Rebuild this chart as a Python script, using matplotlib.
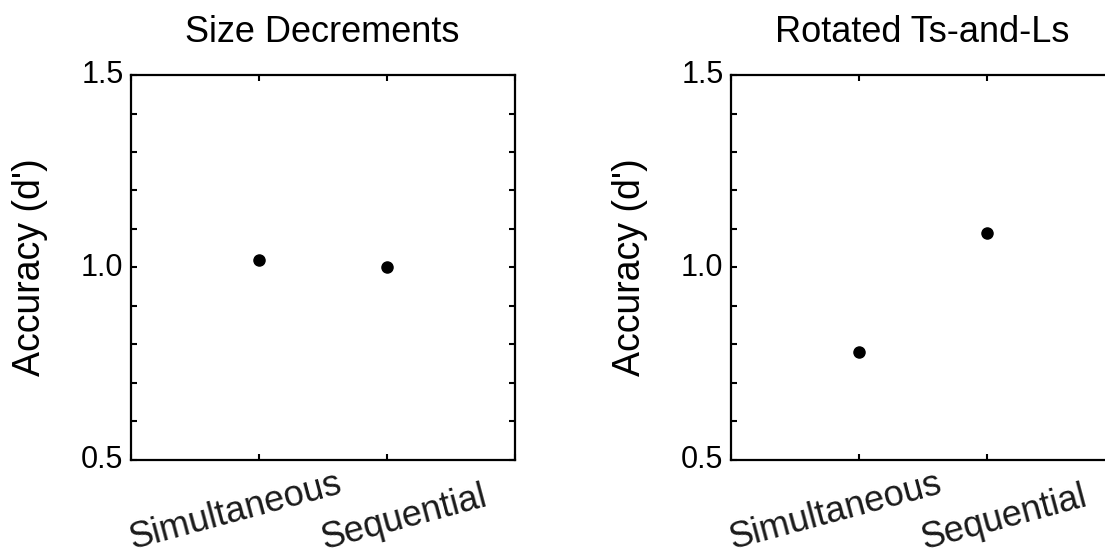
import matplotlib
matplotlib.use("Agg")
import matplotlib.pyplot as plt
import matplotlib.transforms as mtransforms
from matplotlib.ticker import MultipleLocator

plt.rcParams['font.family'] = ['Liberation Sans', 'DejaVu Sans']

conditions = ['Simultaneous', 'Sequential']
cond_x = [1, 2]
panel_titles = ['Size Decrements', 'Rotated Ts-and-Ls']
size_dprime = [1.02, 1.00]
rotated_dprime = [0.78, 1.09]
ylabel = "Accuracy (d')"

fig = plt.figure(figsize=(11.05, 5.56), dpi=100)
ax1 = fig.add_axes([130.5 / 1105, 96 / 556, 384 / 1105, 385 / 556])
ax2 = fig.add_axes([730.5 / 1105, 96 / 556, 384 / 1105, 385 / 556])

# where the rotated condition labels sit (x in data, y in axes fraction)
label_pos = [(0.82, -0.134), (2.14, -0.15)]

for ax, title, vals in zip([ax1, ax2], panel_titles, [size_dprime, rotated_dprime]):
    ax.plot(cond_x, vals, 'o', color='black', markersize=8, linestyle='none')
    ax.set_xlim(0, 3)
    ax.set_ylim(0.5, 1.5)
    ax.set_xticks([0, 1, 2, 3])
    ax.set_xticklabels([])
    ax.set_yticks([0.5, 1.0, 1.5])
    ax.set_yticklabels(['0.5', '1.0', '1.5'])
    ax.yaxis.set_minor_locator(MultipleLocator(0.1))
    ax.tick_params(which='both', direction='in', top=True, right=True,
                   length=4, width=1.5)
    ax.tick_params(axis='y', labelsize=22, pad=5)
    for lab in ax.get_yticklabels():
        lab.set_verticalalignment('center')
    for s in ax.spines.values():
        s.set_linewidth(1.6)
    ax.set_title(title, fontsize=26, pad=24)
    ax.set_ylabel(ylabel, fontsize=27)
    ax.yaxis.set_label_coords(-0.215, 0.5)

    trans = mtransforms.blended_transform_factory(ax.transData, ax.transAxes)
    for name, (px, py) in zip(conditions, label_pos):
        ax.text(px, py, name, transform=trans, fontsize=26, rotation=15,
                rotation_mode='anchor', ha='center', va='center', color='#1a1a1a')

fig.savefig('out.png', dpi=100)
